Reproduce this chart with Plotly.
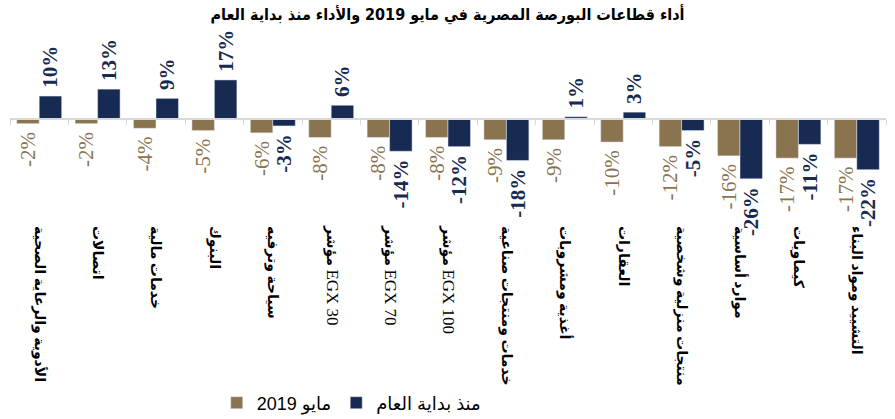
import plotly.graph_objects as go

title = "أداء قطاعات البورصة المصرية في مايو 2019 والأداء منذ بداية العام"
categories = [
    "الأدوية والرعاية الصحية",
    "اتصالات",
    "خدمات مالية",
    "البنوك",
    "سياحة وترفيه",
    "مؤشر EGX 30",
    "مؤشر EGX 70",
    "مؤشر EGX 100",
    "خدمات ومنتجات صناعية",
    "أغذية ومشروبات",
    "العقارات",
    "منتجات منزلية وشخصية",
    "موارد أساسية",
    "كيماويات",
    "التشييد ومواد البناء",
]
may_2019 = [-2, -2, -4, -5, -6, -8, -8, -8, -9, -9, -10, -12, -16, -17, -17]
ytd = [10, 13, 9, 17, -3, 6, -14, -12, -18, 1, 3, -5, -26, -11, -22]
series_names = ["مايو 2019", "منذ بداية العام"]

BROWN = "#8A7450"
NAVY = "#172A51"

y_min, y_max = -41.7, 38.7


def tick_label(name):
    # Arabic words bold, Latin part regular and larger
    if "EGX" in name:
        ar, lat = name.split(" ", 1)
        return "<b>" + ar + "</b> <span style='font-size:17px'>" + lat + "</span>"
    return "<b>" + name + "</b>"


def value_label(v):
    # small non-breaking pad on the bar side of the rotated label
    return ("\u00a0" + f"{v}%") if v >= 0 else (f"{v}%" + "\u00a0")


tick_text = [tick_label(c) for c in categories]

fig = go.Figure()
fig.add_trace(go.Bar(
    x=categories, y=may_2019, name=series_names[0],
    marker=dict(color=BROWN),
    text=[value_label(v) for v in may_2019], texttemplate="%{text}",
    textposition="outside", textangle=-90,
    constraintext="none", cliponaxis=False,
    textfont=dict(family="Liberation Serif", size=21, color=BROWN),
    hoverinfo="skip",
))
fig.add_trace(go.Bar(
    x=categories, y=ytd, name=series_names[1],
    marker=dict(color=NAVY),
    text=[value_label(v) for v in ytd], texttemplate="%{text}",
    textposition="outside", textangle=-90,
    constraintext="none", cliponaxis=False,
    textfont=dict(family="Liberation Serif", size=21, color=NAVY, weight="bold"),
    hoverinfo="skip",
))
# invisible helper trace for the zero-crossing category axis
fig.add_trace(go.Scatter(
    x=categories, y=[0] * len(categories), xaxis="x2", mode="none",
    showlegend=False, hoverinfo="skip",
))

zero_pos = (0 - y_min) / (y_max - y_min)

fig.update_layout(
    width=895, height=419,
    margin=dict(l=10, r=9, t=30, b=204, autoexpand=False),
    paper_bgcolor="white", plot_bgcolor="white",
    barmode="group", bargap=0.23, bargroupgap=0,
    title=dict(text="<b>" + title + "</b>", x=0.5, xanchor="center",
               y=1 - 14 / 419, yanchor="middle",
               font=dict(family="DejaVu Sans Condensed, DejaVu Sans", size=16, color="black")),
    showlegend=True,
    legend=dict(orientation="h", x=0.236, xanchor="left", yref="container",
                y=1 - 403 / 419, yanchor="middle",
                font=dict(family="Liberation Sans, DejaVu Sans", size=18, color="black"),
                traceorder="normal"),
    xaxis=dict(type="category", showline=False, ticks="", showgrid=False,
               tickangle=90, range=[-0.5, 14.5], ticklabelstandoff=10,
               tickvals=categories, ticktext=tick_text,
               tickfont=dict(family="Liberation Serif, DejaVu Sans", size=14, color="black")),
    xaxis2=dict(type="category", overlaying="x", anchor="free", position=zero_pos,
                side="bottom", categoryarray=categories, categoryorder="array",
                range=[-0.5, 14.5], showline=True, linecolor="#D9D9D9", linewidth=1.5,
                ticks="outside", tickson="boundaries", ticklen=5, tickcolor="#D9D9D9",
                tickwidth=1, showticklabels=False, showgrid=False),
    yaxis=dict(range=[y_min, y_max], visible=False, showgrid=False, zeroline=False),
)

fig.write_html(
    "out.html",
    config={"displayModeBar": False},
    post_script="document.body.style.margin='0';document.body.style.padding='0';"
                "document.documentElement.style.overflow='hidden';",
)
